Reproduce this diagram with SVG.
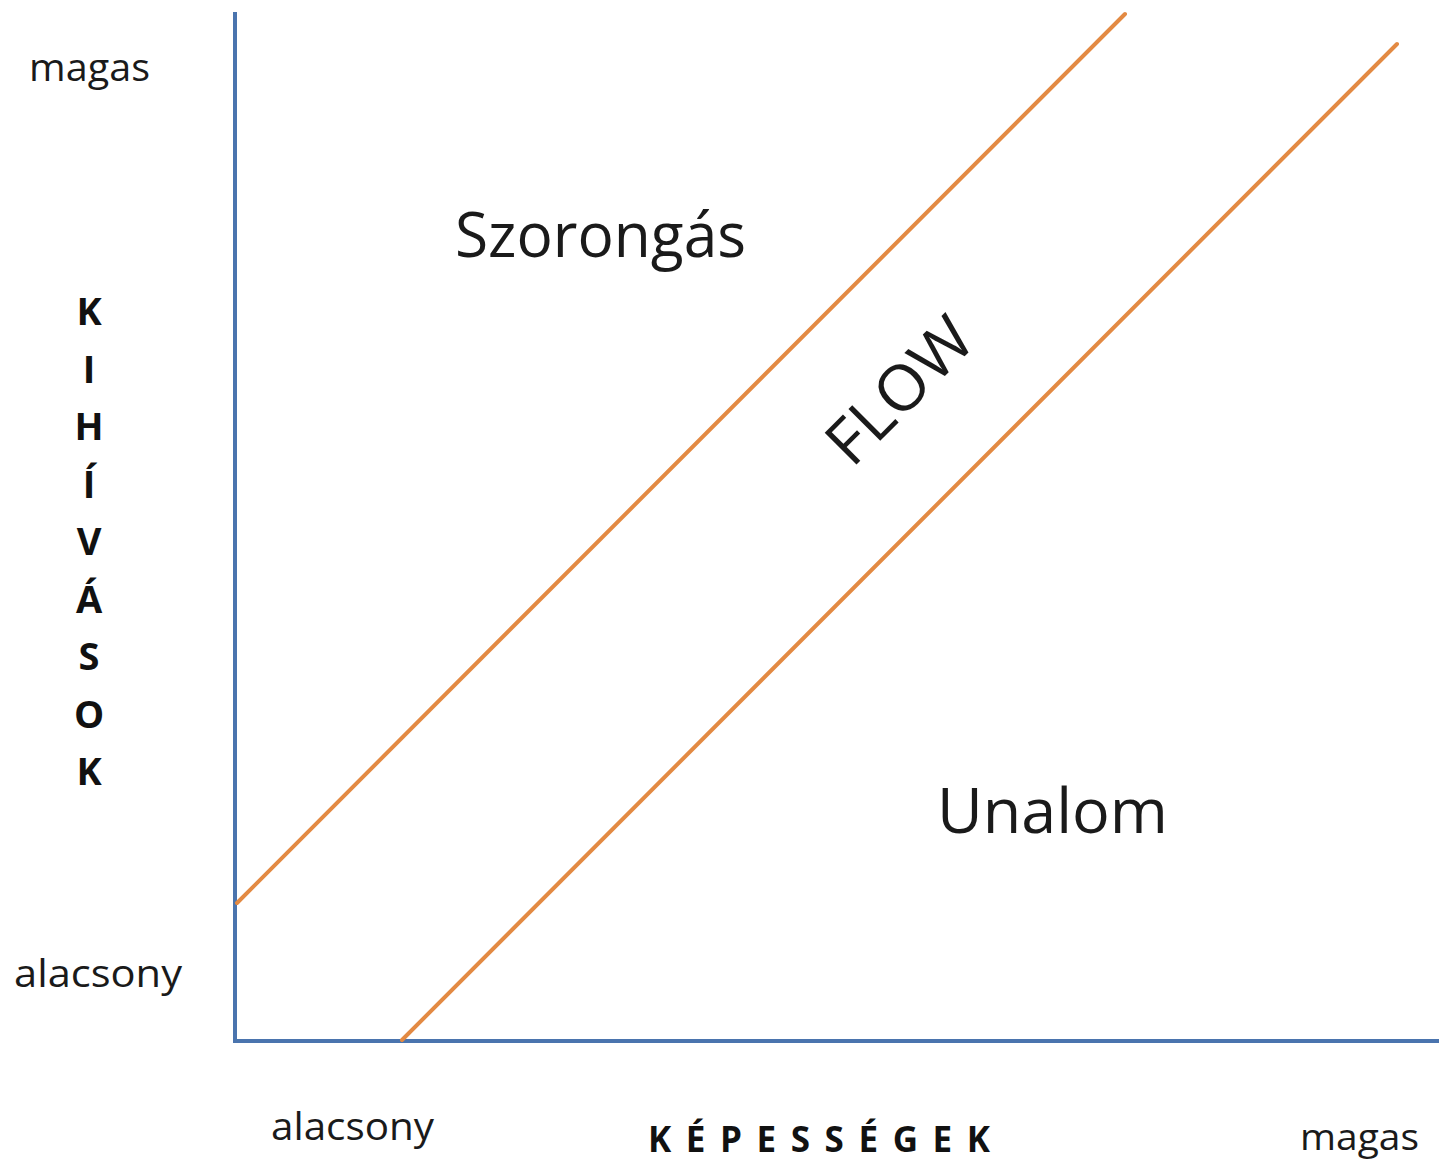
<svg xmlns="http://www.w3.org/2000/svg" width="1439" height="1163" viewBox="0 0 1439 1163">
  <style>
    .axis { stroke: #4A74AE; stroke-width: 4; fill: none; stroke-linecap: square; }
    .band { stroke: #E38A43; stroke-width: 4; fill: none; stroke-linecap: round; }
    .lbl { font-family: "Open Sans", "Liberation Sans", sans-serif; fill: #1a1a1a; }
    .small { font-size: 39px; }
    .big { font-size: 63px; }
    .bold { font-family: "Open Sans", "Liberation Sans", sans-serif; font-weight: bold; fill: #111; }
    .vert { font-size: 38px; text-anchor: middle; }
  </style>
  <rect width="1439" height="1163" fill="#ffffff"/>
  <g id="axes">
    <line class="axis" x1="235" y1="14" x2="235" y2="1041"/>
    <line class="axis" x1="235" y1="1041" x2="1441" y2="1041"/>
  </g>
  <g id="bands">
    <line class="band" x1="237" y1="903" x2="1125" y2="14"/>
    <line class="band" x1="402" y1="1040" x2="1397" y2="44"/>
  </g>
  <g id="y-axis-labels">
    <text class="lbl small" x="29" y="81" textLength="121" lengthAdjust="spacingAndGlyphs">magas</text>
    <text class="lbl small" x="14" y="987" textLength="168" lengthAdjust="spacingAndGlyphs">alacsony</text>
    <g class="bold vert">
      <text x="89" y="325">K</text>
      <text x="89" y="383">I</text>
      <text x="89" y="440">H</text>
      <text x="89" y="498">Í</text>
      <text x="89" y="555">V</text>
      <text x="89" y="613">Á</text>
      <text x="89" y="670">S</text>
      <text x="89" y="728">O</text>
      <text x="89" y="785">K</text>
    </g>
  </g>
  <g id="x-axis-labels">
    <text class="lbl small" x="271" y="1140" textLength="163" lengthAdjust="spacingAndGlyphs">alacsony</text>
    <text class="bold" x="648" y="1152" font-size="35" textLength="342" lengthAdjust="spacing">KÉPESSÉGEK</text>
    <text class="lbl" x="1300" y="1150" font-size="37" textLength="119" lengthAdjust="spacingAndGlyphs">magas</text>
  </g>
  <g id="regions">
    <text class="lbl big" x="455" y="257" textLength="291" lengthAdjust="spacingAndGlyphs">Szorongás</text>
    <text class="lbl big" x="937" y="833" textLength="231" lengthAdjust="spacingAndGlyphs">Unalom</text>
    <text class="lbl big" transform="translate(915 406) rotate(-45)" x="0" y="0" text-anchor="middle" textLength="178" lengthAdjust="spacingAndGlyphs">FLOW</text>
  </g>
</svg>
